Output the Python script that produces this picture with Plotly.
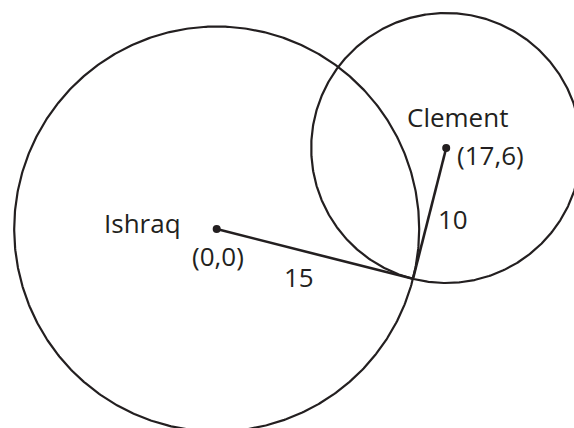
import numpy as np
import plotly.graph_objects as go

# Data
names = ["Ishraq", "Clement"]
centers_x = [0, 17]
centers_y = [0, 6]
radii = [15, 10]
coord_labels = ["(0,0)", "(17,6)"]
radius_labels = ["15", "10"]

INK = "#231f20"
FONT = "Open Sans"

# lower intersection of the two circles
x0, y0, x1, y1 = centers_x[0], centers_y[0], centers_x[1], centers_y[1]
r0, r1 = radii
d = np.hypot(x1 - x0, y1 - y0)
a = (r0**2 - r1**2 + d**2) / (2 * d)
h = np.sqrt(r0**2 - a**2)
px = x0 + a * (x1 - x0) / d
py = y0 + a * (y1 - y0) / d
ix = px + h * (y1 - y0) / d
iy = py - h * (x1 - x0) / d

fig = go.Figure()

theta = np.linspace(0, 2 * np.pi, 721)
for cx, cy, r in zip(centers_x, centers_y, radii):
    fig.add_trace(go.Scatter(x=cx + r * np.cos(theta), y=cy + r * np.sin(theta),
                             mode="lines", line=dict(color=INK, width=2.2),
                             hoverinfo="skip", showlegend=False))

for cx, cy in zip(centers_x, centers_y):
    fig.add_trace(go.Scatter(x=[cx, ix], y=[cy, iy], mode="lines",
                             line=dict(color=INK, width=2.6),
                             hoverinfo="skip", showlegend=False))

fig.add_trace(go.Scatter(x=centers_x, y=centers_y, mode="markers",
                         marker=dict(color=INK, size=8),
                         hoverinfo="skip", showlegend=False))

label_pos = {
    "Ishraq": (-5.53, 0.45),
    "Clement": (17.84, 8.3),
    "(0,0)": (0.06, -2.0),
    "(17,6)": (20.3, 5.45),
    "15": (6.1, -3.56),
    "10": (17.5, 0.74),
}
for txt in names + coord_labels + radius_labels:
    x, y = label_pos[txt]
    fig.add_annotation(x=x, y=y, text=txt, showarrow=False,
                       xanchor="center", yanchor="middle",
                       font=dict(family=FONT, size=26, color=INK))

sx = 13.5
fig.update_xaxes(range=[-216.7 / sx, (574 - 216.7) / sx], visible=False)
fig.update_yaxes(range=[(229 - 428) / sx, 229 / sx], visible=False)
fig.update_layout(width=574, height=428, margin=dict(l=0, r=0, t=0, b=0),
                  plot_bgcolor="white", paper_bgcolor="white")
fig.write_html("out.html", config={"displayModeBar": False},
               post_script="document.body.style.margin='0';document.body.style.overflow='hidden';")
